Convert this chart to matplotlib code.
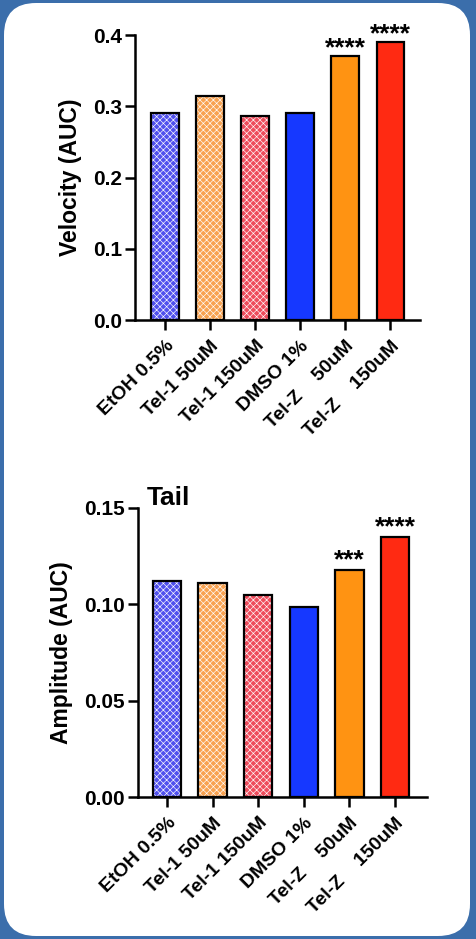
import matplotlib
matplotlib.use("Agg")
import matplotlib.pyplot as plt
from matplotlib.patches import FancyBboxPatch

plt.rcParams['font.family'] = ['Liberation Sans', 'DejaVu Sans']
plt.rcParams['font.weight'] = 'bold'
plt.rcParams['hatch.linewidth'] = 0.45

groups = ['EtOH 0.5%', 'Tel-1 50uM', 'Tel-1 150uM', 'DMSO 1%', 'Tel-Z    50uM', 'Tel-Z    150uM']
velocity = [0.290, 0.314, 0.287, 0.290, 0.370, 0.390]
amplitude = [0.112, 0.111, 0.105, 0.0985, 0.118, 0.135]
vel_sig = ['', '', '', '', '****', '****']
amp_sig = ['', '', '', '', '***', '****']

face = ['#5050ee', '#f8a250', '#ee4c5c', '#1638ff', '#ff9312', '#ff2a12']
hatched = [True, True, True, False, False, False]

fig = plt.figure(figsize=(4.77, 9.39), dpi=100)
fig.patch.set_facecolor('#3b6eab')

# white rounded card behind the charts
bg = fig.add_axes([0, 0, 1, 1], zorder=-1)
bg.set_xlim(0, 477)
bg.set_ylim(0, 939)
bg.axis('off')
bg.add_patch(FancyBboxPatch((4, 3), 466, 933, boxstyle='round,pad=0,rounding_size=32',
                            facecolor='white', edgecolor='none'))


def draw(ax, vals, sig, ticks, ylabel, xlim, star_off):
    x = range(len(vals))
    for i, v in enumerate(vals):
        if hatched[i]:
            ax.bar(i, v, width=0.62, color=face[i], edgecolor='white', hatch='xxxxx', linewidth=0)
            ax.bar(i, v, width=0.62, fill=False, edgecolor='black', linewidth=1.6)
        else:
            ax.bar(i, v, width=0.62, color=face[i], edgecolor='black', linewidth=1.6)
        if sig[i]:
            ax.annotate(sig[i], (i, v), xytext=(0, star_off), textcoords='offset points',
                        ha='center', va='bottom', fontsize=19, fontweight='bold')
    ax.set_xlim(*xlim)
    ax.set_ylim(0, ticks[-1])
    ax.set_yticks(ticks)
    ax.set_xticks(list(x))
    ax.set_xticklabels(groups, rotation=45, ha='right', va='top', rotation_mode='anchor',
                       fontsize=14, fontweight='bold')
    ax.set_ylabel(ylabel, fontsize=16.5, fontweight='bold', labelpad=8)
    for s in ['top', 'right']:
        ax.spines[s].set_visible(False)
    for s in ['left', 'bottom']:
        ax.spines[s].set_linewidth(1.8)
    ax.tick_params(width=1.8, length=7.5, pad=2)
    ax.tick_params(axis='x', pad=5)
    ax.tick_params(axis='y', labelsize=15)
    ax.patch.set_alpha(0)


ax1 = fig.add_axes([0.283, 0.6592, 0.597, 0.3035])
draw(ax1, velocity, vel_sig, [0.0, 0.1, 0.2, 0.3, 0.4], 'Velocity (AUC)', (-0.67, 5.65), -3)
ax1.set_yticklabels(['0.0', '0.1', '0.2', '0.3', '0.4'])

ax2 = fig.add_axes([0.289, 0.1512, 0.606, 0.3078])
draw(ax2, amplitude, amp_sig, [0.0, 0.05, 0.10, 0.15], 'Amplitude (AUC)', (-0.64, 5.70), -2)
ax2.set_yticklabels(['0.00', '0.05', '0.10', '0.15'])
ax2.set_title('Tail', loc='left', fontsize=19, fontweight='bold', x=0.03, y=1.0, pad=2)

fig.savefig('out.png', dpi=100, facecolor=fig.get_facecolor())
